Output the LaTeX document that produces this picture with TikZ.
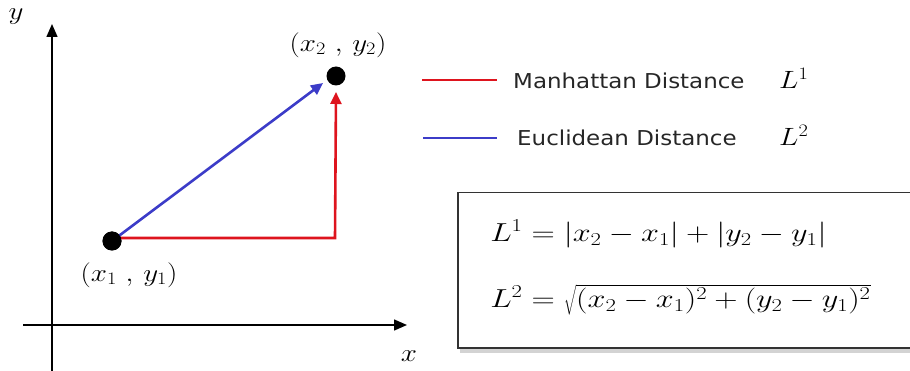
\RequirePackage{fix-cm}
\documentclass[tikz,border=0pt]{standalone}
\usepackage{fontspec}
\newfontfamily\legendfont[FakeStretch=1.12]{DejaVu Sans}
\usetikzlibrary{arrows.meta,shadows}
\definecolor{myred}{RGB}{222,20,30}
\definecolor{myblue}{RGB}{60,60,200}
\tikzset{
  axis/.style={line width=1.4pt,-{Triangle[length=13pt,width=11pt]}},
  conn/.style={line width=2.6pt,-{Triangle[length=12pt,width=11pt]}},
  dot/.style={circle,fill=black,inner sep=0pt,minimum size=19pt},
  lbl/.style={font=\fontsize{25}{30}\selectfont,inner sep=0pt,xscale=1.16,transform shape},
  flbl/.style={font=\fontsize{26}{31}\selectfont,inner sep=0pt,xscale=1.24,transform shape},
  legtxt/.style={font=\legendfont\fontsize{20.5}{24}\selectfont,anchor=west,inner sep=0pt,text=black!85},
  legline/.style={line width=2.4pt},
  formbox/.style={draw=black!80,line width=1.5pt,fill=white,drop shadow={shadow xshift=2pt,shadow yshift=-5pt,opacity=0.35}}
}
\begin{document}
\begin{tikzpicture}[x=1pt,y=-1pt]
\useasboundingbox (0,0) rectangle (910,371);
% axes
\coordinate (ybot) at (52,371);
\coordinate (ytop) at (52,24);
\coordinate (xleft) at (23,325);
\coordinate (xright) at (407,325);
\draw[axis] (ybot) -- (ytop);
\draw[axis] (xleft) -- (xright);
\node[lbl] (ylab) at (16,17) {$y$};
\node[lbl] (xlab) at (409,356) {$x$};
% points
\node[dot] (p1) at (112,241) {};
\node[dot] (p2) at (336,76) {};
\coordinate (corner) at (335,238);
\coordinate (rs) at (118,238);
\draw[conn,myred] (rs) -- (corner) -- ([yshift=-16pt]p2.center);
\draw[conn,myblue] (p1.center) -- ([xshift=-13pt,yshift=-7pt]p2.center);
\node[dot] at (p1) {};
\node[lbl] (l1) at (129,275) {$(x_1\ ,\, y_1)$};
\node[lbl] (l2) at (338,45) {$(x_2\ ,\, y_2)$};
% legend
\coordinate (ra) at (422,80); \coordinate (rb) at (497,80);
\coordinate (ba) at (423,138); \coordinate (bb) at (497,138);
\draw[legline,myred] (ra) -- (rb);
\draw[legline,myblue] (ba) -- (bb);
\node[legtxt] (mt) at (513,81) {Manhattan Distance};
\node[legtxt] (et) at (517,138) {Euclidean Distance};
\node[lbl,anchor=west] (m1) at (779,78) {$L^1$};
\node[lbl,anchor=west] (m2) at (779,135) {$L^2$};
% formula box
\node[formbox,minimum width=460pt,minimum height=155pt,anchor=north west] (box) at (457,192) {};
\node[flbl,anchor=west] (f1) at (490,234) {$L^1 = |x_2 - x_1| + |y_2 - y_1|$};
\node[flbl,anchor=west] (f2) at (490,300) {$L^2 = \sqrt{(x_2 - x_1)^2 + (y_2 - y_1)^2}$};
\end{tikzpicture}
\end{document}
